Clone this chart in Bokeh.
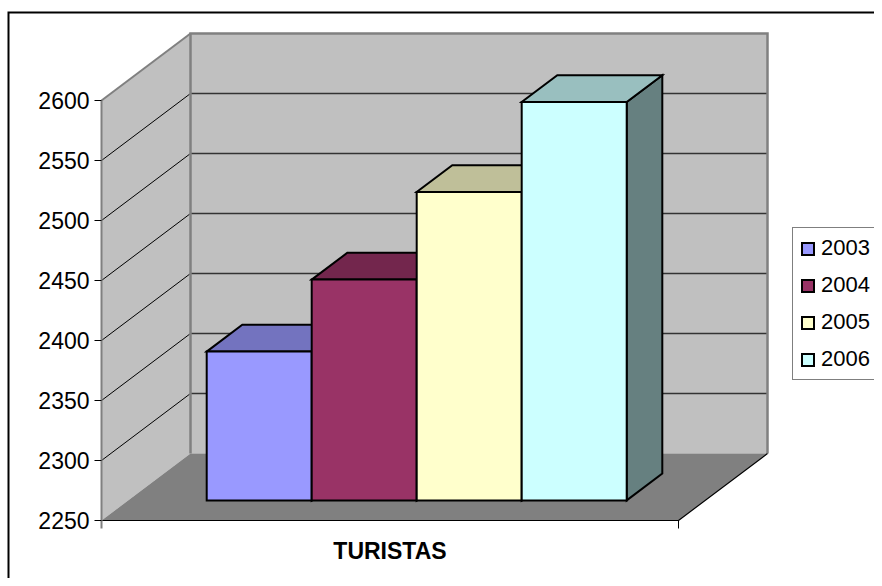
from bokeh.plotting import figure
from bokeh.models import Range1d, Legend, LegendItem
from bokeh.core.properties import value
from bokeh.embed import file_html
from bokeh.resources import INLINE

# ---------------- data ----------------
years = ["2003", "2004", "2005", "2006"]
turistas = [2374, 2434, 2507, 2582]
front_colors = ["#9999FF", "#993366", "#FFFFCC", "#CCFFFF"]
top_colors = ["#7373BF", "#73264D", "#BFBF99", "#99BFBF"]
side_colors = ["#4D4D80", "#4D1A33", "#808066", "#668080"]
y_ticks = [2250, 2300, 2350, 2400, 2450, 2500, 2550, 2600]
y_tick_labels = [str(t) for t in y_ticks]
category = "TURISTAS"

# ---------------- layout constants ----------------
FIG_W, FIG_H = 874, 578
AX_X = 101                # screen x of the front vertical axis
BASE_Y = 520              # screen y of the base value
PPU = 1.2                 # pixels per value unit
BASE = y_ticks[0]
TOP = y_ticks[-1]
FW = 577                  # floor width (px units)
DX = 89                   # depth offset x (px)
DY = 67 / PPU             # depth offset y (value units)
BW = 105                  # bar width
F0, F1 = 0.3, 0.7         # bar depth fractions
FONT = "Liberation Sans"

p = figure(width=FIG_W, height=FIG_H, output_backend="svg", toolbar_location=None,
           x_axis_type=None, y_axis_type=None,
           x_range=Range1d(-AX_X, FIG_W - AX_X),
           y_range=Range1d(BASE - (FIG_H - BASE_Y) / PPU, BASE + BASE_Y / PPU),
           min_border=0, outline_line_color=None, background_fill_color="white",
           border_fill_color="white")
p.grid.visible = False

# ---------------- walls and floor ----------------
p.patch([0, 0, DX, DX], [BASE, TOP, TOP + DY, BASE + DY],
        fill_color="#C0C0C0", line_color=None)
p.patch([DX, DX, DX + FW, DX + FW], [BASE + DY, TOP + DY, TOP + DY, BASE + DY],
        fill_color="#C0C0C0", line_color=None)
p.patch([0, FW, FW + DX, DX], [BASE, BASE, BASE + DY, BASE + DY],
        fill_color="#808080", line_color=None)

grid_vals = y_ticks[1:-1]
p.segment(x0=[0] * len(grid_vals), y0=grid_vals,
          x1=[DX] * len(grid_vals), y1=[v + DY for v in grid_vals],
          line_color="black", line_width=1)
p.segment(x0=[DX] * len(grid_vals), y0=[v + DY for v in grid_vals],
          x1=[DX + FW] * len(grid_vals), y1=[v + DY for v in grid_vals],
          line_color="#333333", line_width=1.3)

# wall edges (gray)
p.line([0, DX], [TOP, TOP + DY], line_color="#808080", line_width=2)
p.line([DX, DX, DX + FW, DX + FW], [BASE + DY, TOP + DY, TOP + DY, BASE + DY],
       line_color="#808080", line_width=2.5, line_join="miter")

# floor edges
p.line([0, FW, FW + DX], [BASE, BASE, BASE + DY], line_color="black", line_width=1.2)

# axes lines and ticks
p.line([0, 0], [BASE - 8 / PPU, TOP], line_color="#808080", line_width=2)
p.segment(x0=[-7] * len(y_ticks), y0=y_ticks, x1=[0] * len(y_ticks), y1=y_ticks,
          line_color="black", line_width=1)
p.line([FW, FW], [BASE, BASE - 8 / PPU], line_color="black", line_width=1)

p.text(x=[-12] * len(y_ticks), y=y_ticks, text=y_tick_labels,
       text_align="right", text_baseline="middle",
       text_font=value(FONT), text_font_size="23px", text_color="black")
p.text(x=[FW / 2], y=[BASE - 30 / PPU], text=[category],
       text_align="center", text_baseline="middle",
       text_font=value(FONT), text_font_size="23px", text_font_style="bold",
       text_color="black")

# ---------------- bars ----------------
n = len(years)
items = []
fx, fy = F0 * DX, F0 * DY
bx, by = F1 * DX, F1 * DY
for i, (yr, v) in enumerate(zip(years, turistas)):
    x0 = FW / 2 + (i - n / 2) * BW
    x1 = x0 + BW
    p.patch([x1 + fx, x1 + bx, x1 + bx, x1 + fx],
            [BASE + fy, BASE + by, v + by, v + fy],
            fill_color=side_colors[i], line_color="black", line_width=2, line_join="miter")
    p.patch([x0 + fx, x1 + fx, x1 + bx, x0 + bx],
            [v + fy, v + fy, v + by, v + by],
            fill_color=top_colors[i], line_color="black", line_width=2, line_join="miter")
    r = p.quad(left=[x0 + fx], right=[x1 + fx], bottom=[BASE + fy], top=[v + fy],
               fill_color=front_colors[i], line_color="black", line_width=2,
               line_join="miter")
    items.append(LegendItem(label=yr, renderers=[r]))

# ---------------- legend ----------------
legend = Legend(items=items, location=(792, 198),
                label_text_font=FONT, label_text_font_size="22px",
                label_text_color="black",
                label_height=25, glyph_width=15, glyph_height=15,
                label_standoff=6, spacing=11, padding=7, margin=0,
                border_line_color="black", border_line_width=1,
                background_fill_color="white", background_fill_alpha=1)
p.add_layout(legend)

# ---------------- chart border (left / top) ----------------
top_border = BASE + (BASE_Y - 12) / PPU
left_border = 8 - AX_X
p.line([left_border, left_border, FIG_W - AX_X], [BASE - (FIG_H - BASE_Y) / PPU, top_border, top_border],
       line_color="black", line_width=2, line_join="miter")

open("out.html", "w").write(file_html(p, INLINE))
